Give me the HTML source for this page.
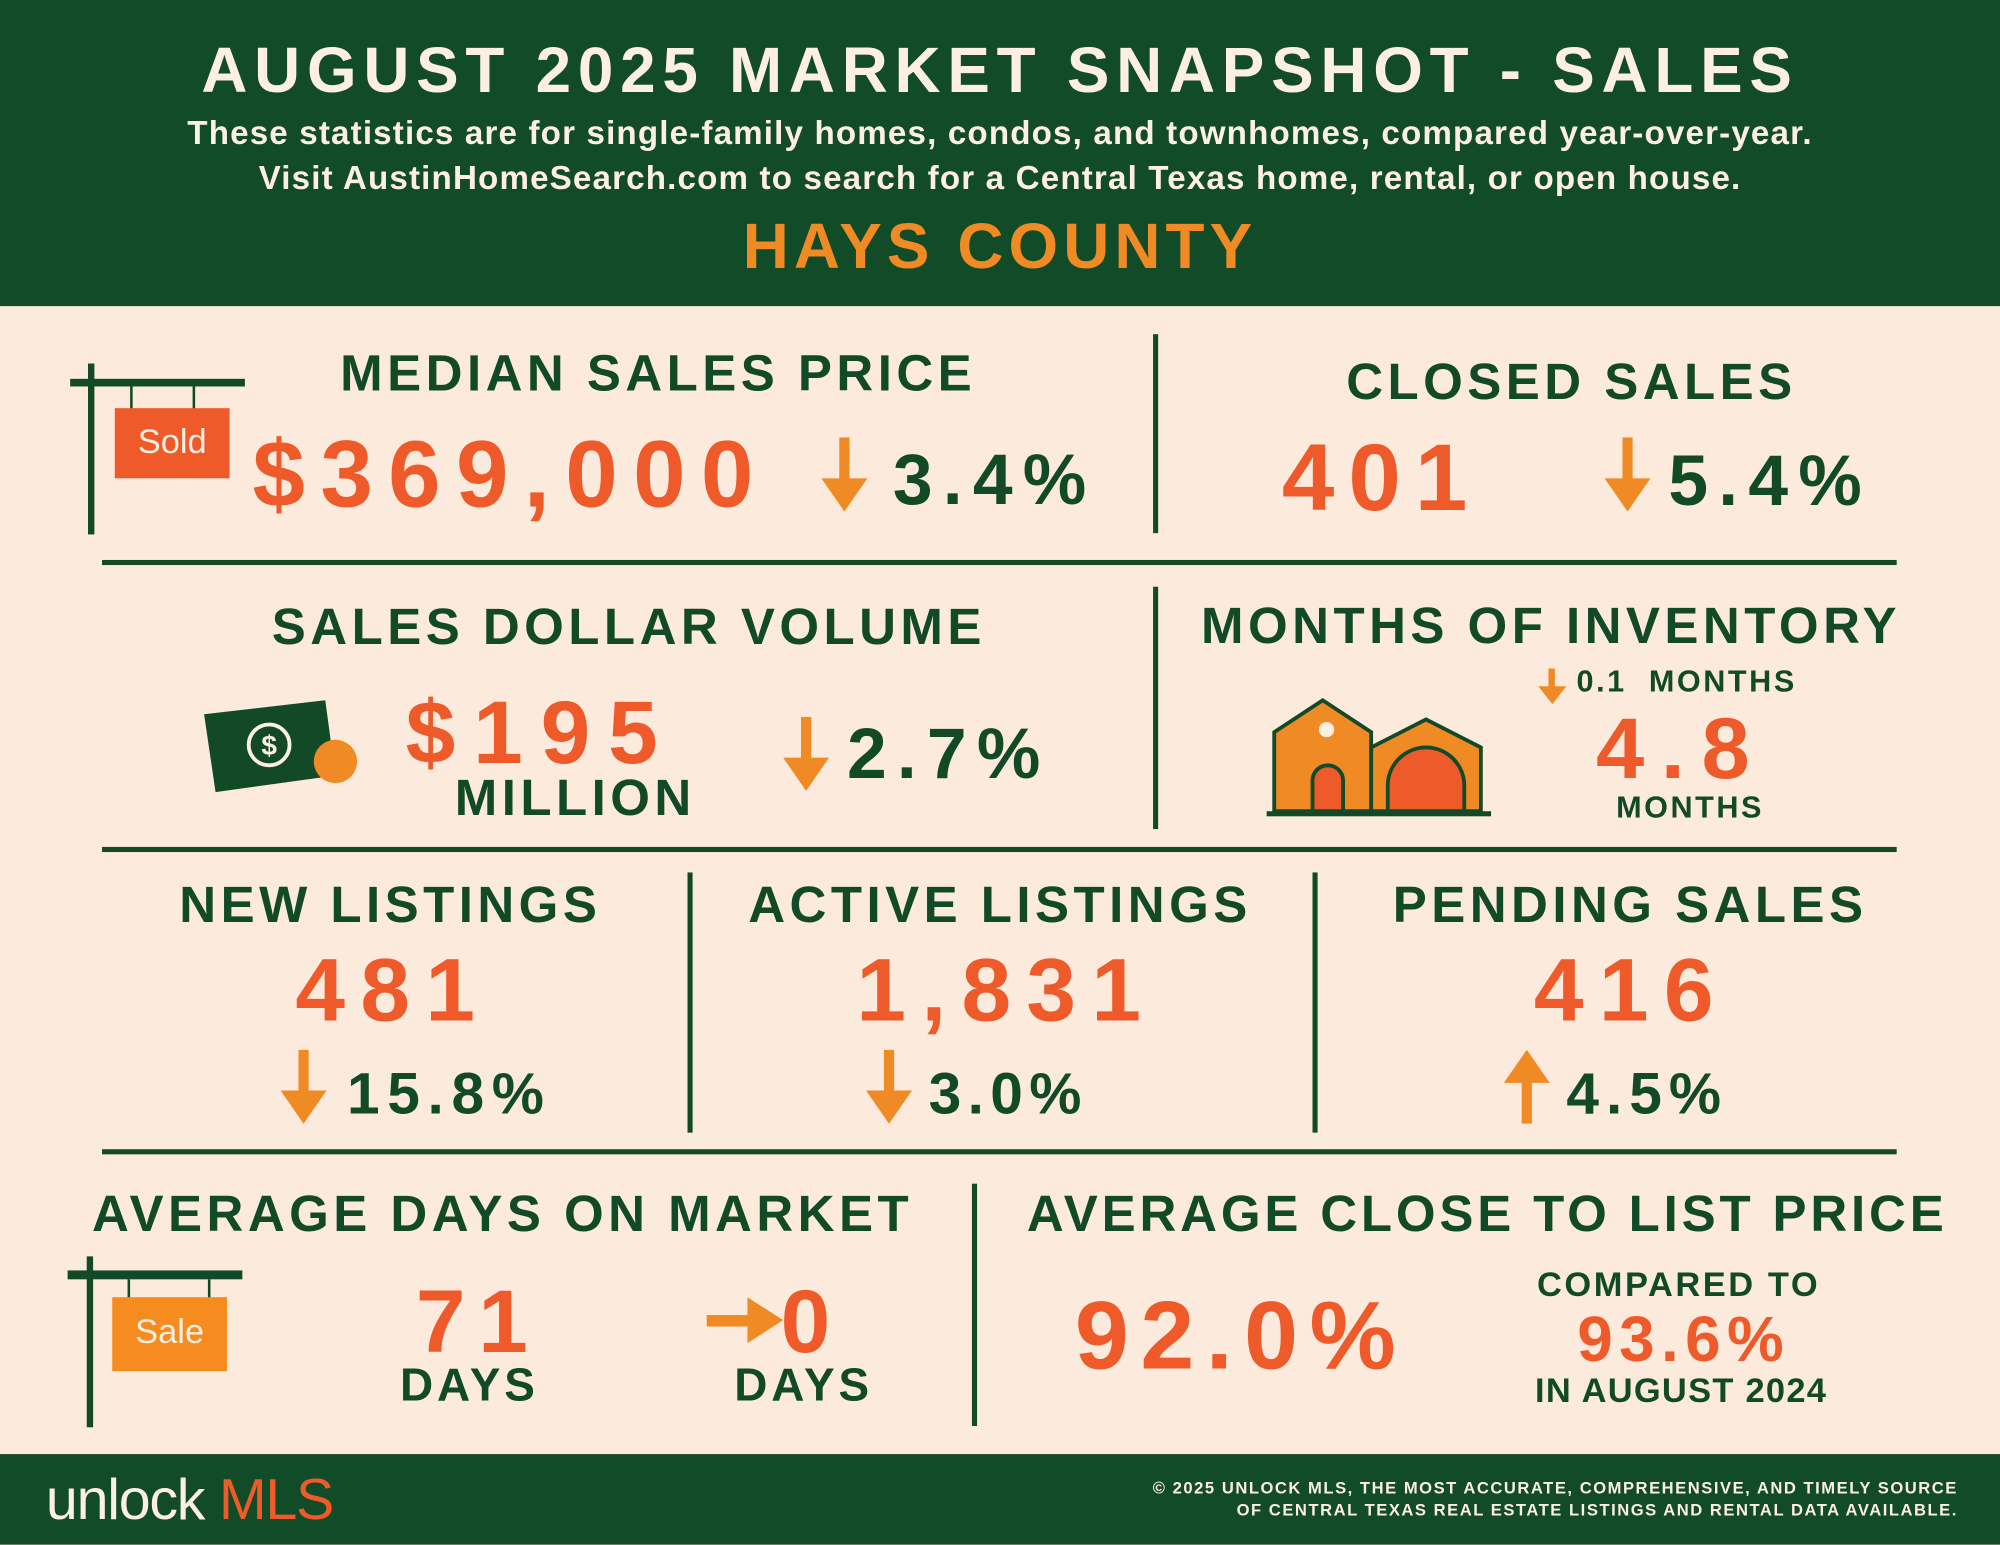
<!DOCTYPE html>
<html><head><meta charset="utf-8"><style>
*{margin:0;padding:0;box-sizing:border-box}
html,body{width:2000px;height:1545px;overflow:hidden;background:#fcebdd}
#w{position:absolute;left:0;top:0;width:1568px;height:1211px;transform:scale(1.27551);transform-origin:0 0;background:#fcebdd;font-family:"Liberation Sans",sans-serif;font-weight:bold}
.t{position:absolute;white-space:nowrap;line-height:1}
.c{transform:translateX(-50%)}
.g{color:#124a27}.o{color:#ee5a2a}.y{color:#f08a24}.cr{color:#fdf0e2}
.h{font-size:40px;letter-spacing:3.5px}
.b{position:absolute;background:#124a27}
svg{position:absolute}
</style></head><body><div id="w">
<div style="position:absolute;left:0;top:0;width:1568px;height:240px;background:#114b27"></div>
<div class="t c cr" style="left:784px;top:30px;font-size:50px;letter-spacing:5.3px">AUGUST 2025 MARKET SNAPSHOT - SALES</div>
<div class="t c cr" style="left:784px;top:91px;font-size:26px;letter-spacing:0.9px">These statistics are for single-family homes, condos, and townhomes, compared year-over-year.</div>
<div class="t c cr" style="left:784px;top:126px;font-size:26px;letter-spacing:0.9px">Visit AustinHomeSearch.com to search for a Central Texas home, rental, or open house.</div>
<div class="t c y" style="left:784px;top:168px;font-size:50px;letter-spacing:4px">HAYS COUNTY</div>

<div class="b" style="left:904px;top:262px;width:4px;height:156px"></div>
<div class="b" style="left:80px;top:439px;width:1407px;height:4px"></div>
<div class="b" style="left:904px;top:460px;width:4px;height:190px"></div>
<div class="b" style="left:80px;top:664px;width:1407px;height:4px"></div>
<div class="b" style="left:539px;top:684px;width:4px;height:204px"></div>
<div class="b" style="left:1029px;top:684px;width:4px;height:204px"></div>
<div class="b" style="left:80px;top:901px;width:1407px;height:4px"></div>
<div class="b" style="left:762px;top:928px;width:4px;height:190px"></div>

<div class="b" style="left:69px;top:285px;width:5px;height:134px"></div>
<div class="b" style="left:55px;top:297px;width:137px;height:6px"></div>
<div class="b" style="left:102px;top:303px;width:2px;height:18px"></div>
<div class="b" style="left:151px;top:303px;width:2px;height:18px"></div>
<div style="position:absolute;left:90px;top:320px;width:90px;height:55px;background:#ee5a2a"></div>
<div class="t c cr" style="left:135px;top:333px;font-size:27px;font-weight:normal">Sold</div>

<div class="t c g h" style="left:516px;top:273px">MEDIAN SALES PRICE</div>
<div class="t o" style="left:198px;top:335px;font-size:74px;letter-spacing:12px">$369,000</div>
<svg style="left:644px;top:343px" width="36" height="58"><rect x="14" y="0" width="8" height="36" fill="#f08a24"/><polygon points="0,32 36,32 18,58" fill="#f08a24"/></svg>
<div class="t g" style="left:700px;top:348px;font-size:56px;letter-spacing:8px">3.4%</div>

<div class="t c g h" style="left:1232px;top:280px">CLOSED SALES</div>
<div class="t o" style="left:1005px;top:338px;font-size:74px;letter-spacing:11px">401</div>
<svg style="left:1258px;top:343px" width="36" height="58"><rect x="14" y="0" width="8" height="36" fill="#f08a24"/><polygon points="0,32 36,32 18,58" fill="#f08a24"/></svg>
<div class="t g" style="left:1308px;top:349px;font-size:56px;letter-spacing:8px">5.4%</div>

<div class="t c g h" style="left:493px;top:472px">SALES DOLLAR VOLUME</div>
<svg style="left:155px;top:545px" width="130" height="80"><polygon points="5,15 100,4 108,63 14,76" fill="#124a27"/><circle cx="56" cy="39" r="16" fill="none" stroke="#fdf0e2" stroke-width="3"/><text x="56" y="47" font-size="22" font-family="Liberation Sans" font-weight="bold" fill="#fdf0e2" text-anchor="middle">$</text><circle cx="108" cy="52" r="17" fill="#f08a24"/></svg>
<div class="t o" style="left:318px;top:539px;font-size:70px;letter-spacing:14px">$195</div>
<div class="t c g h" style="left:451px;top:606px">MILLION</div>
<svg style="left:614px;top:562px" width="36" height="58"><rect x="14" y="0" width="8" height="36" fill="#f08a24"/><polygon points="0,32 36,32 18,58" fill="#f08a24"/></svg>
<div class="t g" style="left:664px;top:563px;font-size:56px;letter-spacing:8px">2.7%</div>

<div class="t c g h" style="left:1216px;top:471px">MONTHS OF INVENTORY</div>
<svg style="left:1206px;top:524px" width="22" height="28"><rect x="8" y="0" width="5" height="16" fill="#f08a24"/><polygon points="0,14 22,14 11,28" fill="#f08a24"/></svg>
<div class="t g" style="left:1236px;top:523px;font-size:24px;letter-spacing:2px">0.1&nbsp; MONTHS</div>
<div class="t c o" style="left:1318px;top:553px;font-size:68px;letter-spacing:13px">4.8</div>
<div class="t c g" style="left:1325px;top:622px;font-size:24px;letter-spacing:2px">MONTHS</div>
<svg style="left:993px;top:544px" width="178" height="98"><rect x="0" y="92" width="176" height="4" fill="#124a27"/><polygon points="6,92 6,30 44,5 82,30 82,92" fill="#f08a24" stroke="#124a27" stroke-width="3"/><polygon points="82,92 82,42 125,20 168,42 168,92" fill="#f08a24" stroke="#124a27" stroke-width="3"/><circle cx="47" cy="28" r="6" fill="#fdf0e2"/><path d="M36,92 V68 a12,12 0 0 1 24,0 V92Z" fill="#ee5a2a" stroke="#124a27" stroke-width="3"/><path d="M95,92 V72 a30,30 0 0 1 60,0 V92Z" fill="#ee5a2a" stroke="#124a27" stroke-width="3"/></svg>

<div class="t c g h" style="left:306px;top:690px">NEW LISTINGS</div>
<div class="t c o" style="left:308px;top:741px;font-size:70px;letter-spacing:12px">481</div>
<svg style="left:220px;top:823px" width="36" height="58"><rect x="14" y="0" width="8" height="36" fill="#f08a24"/><polygon points="0,32 36,32 18,58" fill="#f08a24"/></svg>
<div class="t g" style="left:272px;top:834px;font-size:46px;letter-spacing:6px">15.8%</div>

<div class="t c g h" style="left:784px;top:690px">ACTIVE LISTINGS</div>
<div class="t c o" style="left:789px;top:741px;font-size:70px;letter-spacing:12px">1,831</div>
<svg style="left:679px;top:823px" width="36" height="58"><rect x="14" y="0" width="8" height="36" fill="#f08a24"/><polygon points="0,32 36,32 18,58" fill="#f08a24"/></svg>
<div class="t g" style="left:728px;top:834px;font-size:46px;letter-spacing:5px">3.0%</div>

<div class="t c g h" style="left:1278px;top:690px">PENDING SALES</div>
<div class="t c o" style="left:1279px;top:741px;font-size:70px;letter-spacing:12px">416</div>
<svg style="left:1179px;top:823px" width="36" height="58"><rect x="14" y="22" width="8" height="36" fill="#f08a24"/><polygon points="0,26 36,26 18,0" fill="#f08a24"/></svg>
<div class="t g" style="left:1228px;top:834px;font-size:46px;letter-spacing:5.5px">4.5%</div>

<div class="t c g h" style="left:394px;top:932px">AVERAGE DAYS ON MARKET</div>
<div class="t c g h" style="left:1166px;top:932px;letter-spacing:3px">AVERAGE CLOSE TO LIST PRICE</div>
<div class="b" style="left:68px;top:985px;width:5px;height:134px"></div>
<div class="b" style="left:53px;top:996px;width:137px;height:7px"></div>
<div class="b" style="left:100px;top:1003px;width:2px;height:15px"></div>
<div class="b" style="left:163px;top:1003px;width:2px;height:15px"></div>
<div style="position:absolute;left:88px;top:1017px;width:90px;height:58px;background:#f68b1f"></div>
<div class="t c cr" style="left:133px;top:1031px;font-size:27px;font-weight:normal">Sale</div>
<div class="t c o" style="left:375px;top:1001px;font-size:70px;letter-spacing:10px">71</div>
<div class="t c g" style="left:368px;top:1068px;font-size:36px;letter-spacing:3px">DAYS</div>
<svg style="left:554px;top:1017px" width="60" height="36"><rect x="0" y="14" width="36" height="9" fill="#f08a24"/><polygon points="32,0 32,36 60,18" fill="#f08a24"/></svg>
<div class="t o" style="left:612px;top:1001px;font-size:70px">0</div>
<div class="t c g" style="left:630px;top:1068px;font-size:36px;letter-spacing:3px">DAYS</div>
<div class="t c o" style="left:973px;top:1010px;font-size:76px;letter-spacing:9px">92.0%</div>
<div class="t c g" style="left:1316px;top:994px;font-size:27px;letter-spacing:2px">COMPARED TO</div>
<div class="t c o" style="left:1320px;top:1025px;font-size:50px;letter-spacing:5px">93.6%</div>
<div class="t c g" style="left:1318px;top:1077px;font-size:27px;letter-spacing:1px">IN AUGUST 2024</div>

<div style="position:absolute;left:0;top:1140px;width:1568px;height:71px;background:#114b27"></div>
<div class="t" style="left:36px;top:1153px;font-size:45px;font-weight:normal;letter-spacing:-1px"><span class="cr">unlock </span><span class="o">MLS</span></div>
<div class="t cr" style="right:33px;top:1158px;font-size:13px;letter-spacing:1.2px;text-align:right;line-height:17px">© 2025 UNLOCK MLS, THE MOST ACCURATE, COMPREHENSIVE, AND TIMELY SOURCE<br>OF CENTRAL TEXAS REAL ESTATE LISTINGS AND RENTAL DATA AVAILABLE.</div>
</div></body></html>
